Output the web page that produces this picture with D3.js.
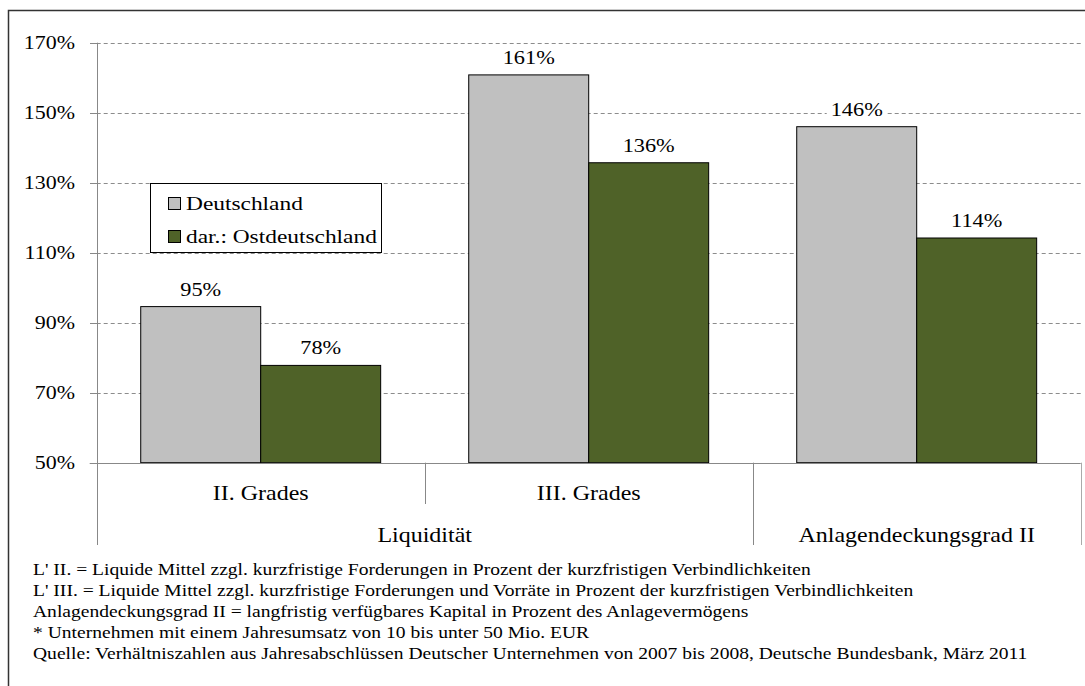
<!DOCTYPE html>
<html>
<head>
<meta charset="utf-8">
<script src="https://cdn.jsdelivr.net/npm/d3@7"></script>
<style>
  body { margin: 0; background: #fff; }
  svg text { font-family: "Liberation Serif", "Times New Roman", serif; fill: #000; }
</style>
</head>
<body>
<div id="chart"></div>
<script>
var width = 1085;
var height = 686;

// data
var categories = ["II. Grades", "III. Grades", ""];
var outerGroups = ["Liquidität", "Liquidität", "Anlagendeckungsgrad II"];
var series = ["Deutschland", "dar.: Ostdeutschland"];
var deutschland = [94.6, 160.8, 146.0];
var ostdeutschland = [77.8, 135.7, 114.2];
var yTicks = [50, 70, 90, 110, 130, 150, 170];
var notes = [
  "L' II. = Liquide Mittel zzgl. kurzfristige Forderungen in Prozent der kurzfristigen Verbindlichkeiten",
  "L' III. = Liquide Mittel zzgl. kurzfristige Forderungen und Vorräte in Prozent der kurzfristigen Verbindlichkeiten",
  "Anlagendeckungsgrad II = langfristig verfügbares Kapital in Prozent des Anlagevermögens",
  "* Unternehmen mit einem Jahresumsatz von 10 bis unter 50 Mio. EUR",
  "Quelle: Verhältniszahlen aus Jahresabschlüssen Deutscher Unternehmen von 2007 bis 2008, Deutsche Bundesbank, März 2011"
];
var colors = ["#c0c0c0", "#4f6228"];

// the original text looks a bit wider than Times, stretch it horizontally
var sx = 1.2;
function place(sel, px, py) {
  sel.attr("transform", function(d, i){
    var a = typeof px === "function" ? px(d, i) : px;
    var b = typeof py === "function" ? py(d, i) : py;
    return "translate(" + a + "," + b + ") scale(" + sx + ",1)";
  });
}

var svg = d3.select("#chart")
  .append("svg")
  .attr("width", width)
  .attr("height", height);

// outer frame
svg.append("rect")
  .attr("x", 8.5).attr("y", 10.5)
  .attr("width", 1100).attr("height", 700)
  .attr("fill", "none")
  .attr("stroke", "#333")
  .attr("stroke-width", 1.5);

var plotLeft = 96.7, plotRight = 1080.7, plotTop = 42.7, plotBottom = 462.7;

var x = d3.scaleBand()
  .domain(d3.range(categories.length))
  .range([plotLeft, plotRight]);

var x1 = d3.scaleBand()
  .domain(series)
  .range([0, x.bandwidth()])
  .paddingOuter(0.367);

var y = d3.scaleLinear()
  .domain([50, 170])
  .range([plotBottom, plotTop]);

var fmt = d3.format(".0f");

// gridlines
svg.append("g").selectAll("line")
  .data(yTicks.slice(1))
  .enter().append("line")
  .attr("x1", plotLeft).attr("x2", plotRight)
  .attr("y1", function(d){ return Math.round(y(d)) + 0.5; })
  .attr("y2", function(d){ return Math.round(y(d)) + 0.5; })
  .attr("stroke", "#8c8c8c")
  .attr("stroke-dasharray", "4,3");

// y axis
var yAxis = d3.axisLeft(y)
  .tickValues(yTicks)
  .tickSize(7)
  .tickPadding(14)
  .tickFormat(function(d){ return d + "%"; });

var yg = svg.append("g")
  .attr("transform", "translate(" + Math.round(plotLeft) + ",0)")
  .call(yAxis);
yg.select(".domain").remove();
yg.selectAll(".tick").attr("transform", function(d){ return "translate(0," + (Math.round(y(d)) + 0.5) + ")"; });
yg.selectAll("line").attr("stroke", "#888");
yg.selectAll("text")
  .attr("x", -22 / sx)
  .attr("transform", "scale(" + sx + ",1)")
  .style("font-size", "18.3px")
  .attr("fill", "#000");

svg.append("line")
  .attr("x1", Math.round(plotLeft) + 0.5).attr("x2", Math.round(plotLeft) + 0.5)
  .attr("y1", plotTop).attr("y2", 545)
  .attr("stroke", "#888");

// bars
var rows = categories.map(function(c, i){
  return { i: i, values: [deutschland[i], ostdeutschland[i]] };
});

var grp = svg.append("g").selectAll("g")
  .data(rows)
  .enter().append("g")
  .attr("transform", function(d){ return "translate(" + x(d.i) + ",0)"; });

grp.selectAll("rect")
  .data(function(d){ return d.values.map(function(v, k){ return { s: series[k], v: v, k: k }; }); })
  .enter().append("rect")
  .attr("x", function(d){ return x1(d.s); })
  .attr("y", function(d){ return y(d.v); })
  .attr("width", x1.bandwidth())
  .attr("height", function(d){ return plotBottom - y(d.v); })
  .attr("fill", function(d){ return colors[d.k]; })
  .attr("stroke", "#000")
  .attr("stroke-width", 1);

// value labels, white box hides the gridline behind them
var lab = grp.selectAll("g.lab")
  .data(function(d){ return d.values.map(function(v, k){ return { s: series[k], v: v }; }); })
  .enter().append("g")
  .attr("class", "lab")
  .attr("transform", function(d){ return "translate(" + (x1(d.s) + x1.bandwidth() / 2) + "," + (y(d.v) - 11) + ")"; });

lab.append("rect")
  .attr("x", -30).attr("y", -18)
  .attr("width", 60).attr("height", 22)
  .attr("fill", "#fff");

lab.append("text")
  .attr("text-anchor", "middle")
  .attr("transform", "scale(" + sx + ",1)")
  .style("font-size", "18.6px")
  .text(function(d){ return fmt(d.v) + "%"; });

// baseline
svg.append("line")
  .attr("x1", plotLeft - 7).attr("x2", plotRight)
  .attr("y1", Math.round(plotBottom) + 0.5).attr("y2", Math.round(plotBottom) + 0.5)
  .attr("stroke", "#888");

// category axis separators
categories.forEach(function(c, i){
  if (i === 0) return;
  var full = outerGroups[i] !== outerGroups[i - 1];
  svg.append("line")
    .attr("x1", Math.round(x(i)) + 0.5).attr("x2", Math.round(x(i)) + 0.5)
    .attr("y1", plotBottom).attr("y2", full ? 545 : 504)
    .attr("stroke", "#888");
});
svg.append("line")
  .attr("x1", Math.round(plotRight) + 0.5).attr("x2", Math.round(plotRight) + 0.5)
  .attr("y1", plotBottom).attr("y2", 545)
  .attr("stroke", "#aaa");

var catText = svg.append("g").selectAll("text")
  .data(categories)
  .enter().append("text")
  .attr("text-anchor", "middle")
  .style("font-size", "20px")
  .text(function(d){ return d; });
place(catText, function(d, i){ return x(i) + x.bandwidth() / 2; }, 500);

var outer = d3.groups(categories.map(function(c, i){ return { g: outerGroups[i], i: i }; }), function(d){ return d.g; });
var outerText = svg.append("g").selectAll("text")
  .data(outer)
  .enter().append("text")
  .attr("text-anchor", "middle")
  .style("font-size", "20px")
  .text(function(d){ return d[0]; });
place(outerText, function(d){
  var a = x(d[1][0].i), b = x(d[1][d[1].length - 1].i) + x.bandwidth();
  return (a + b) / 2;
}, 542);

// legend
var legend = svg.append("g").attr("transform", "translate(150,183)");
legend.append("rect")
  .attr("x", 0.5).attr("y", 0.5)
  .attr("width", 231).attr("height", 69)
  .attr("fill", "#fff")
  .attr("stroke", "#000");
var li = legend.selectAll("g.item")
  .data(series)
  .enter().append("g")
  .attr("class", "item")
  .attr("transform", function(d, i){ return "translate(18.5," + (14.5 + i * 33) + ")"; });
li.append("rect")
  .attr("width", 12).attr("height", 12)
  .attr("fill", function(d, i){ return colors[i]; })
  .attr("stroke", "#000");
var liText = li.append("text")
  .style("font-size", "19.5px")
  .text(function(d){ return d; });
place(liText, 17.5, 12);

// notes
var noteText = svg.append("g").selectAll("text")
  .data(notes)
  .enter().append("text")
  .style("font-size", "16.3px")
  .text(function(d){ return d; });
place(noteText, 33, function(d, i){ return 575 + i * 21; });
</script>
</body>
</html>
